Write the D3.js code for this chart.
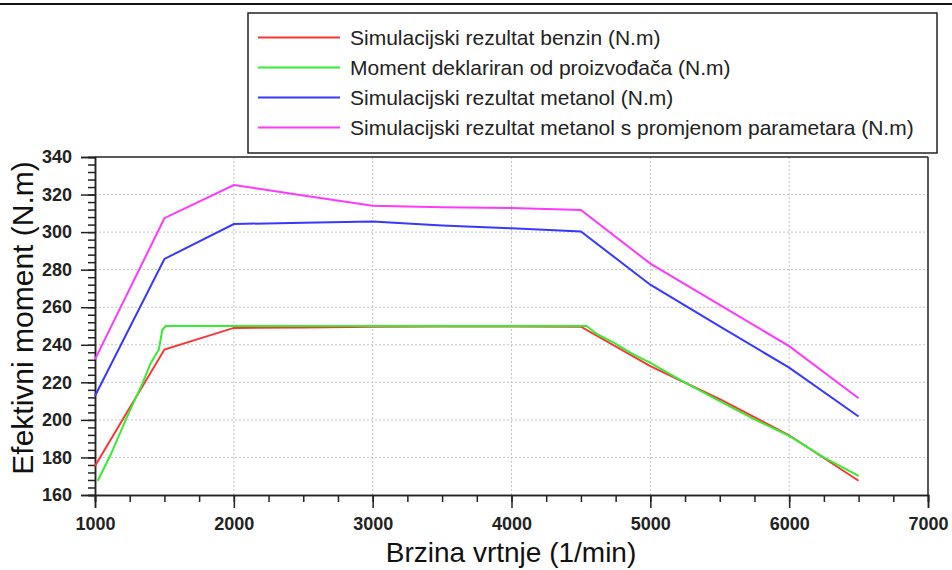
<!DOCTYPE html>
<html>
<head>
<meta charset="utf-8">
<script src="https://cdn.jsdelivr.net/npm/d3@7"></script>
<style>
	body { margin: 0; background: #fff; }
	svg text { font-family: 'Liberation Sans', Arial, sans-serif; }
</style>
</head>
<body>
<svg id="chart" width="952" height="570"></svg>
<script>
'use strict'

// series: [rpm, N.m]
var benzin = [[1000,175.5],[1500,237.5],[2000,249],[2500,249.2],[3000,249.6],[3500,249.7],[4000,249.8],[4500,249.6],[5000,228.6],[5500,211],[6000,191.8],[6500,167.6]];
var deklarirano = [[1020,167.6],[1110,181],[1245,204],[1340,219],[1400,230],[1460,237.5],[1485,248],[1510,250],[2000,250],[3000,250],[4000,250],[4540,250],[4620,245.5],[4740,241],[4855,235.8],[5000,230.4],[5250,219.8],[5500,210],[5750,200.3],[6000,191.5],[6250,180],[6500,170.2]];
var metanol = [[1000,212.7],[1500,285.7],[2000,304.3],[2500,305],[3000,305.6],[3500,303.5],[4000,302],[4500,300.3],[5000,272],[5500,249.8],[6000,227.8],[6500,201.8]];
var metanolParam = [[1000,232.2],[1500,307.4],[2000,325.1],[2500,319.5],[3000,314],[3500,313.3],[4000,312.8],[4500,311.8],[5000,283.2],[5500,261.2],[6000,239.3],[6500,211.5]];

var seriesNames = [
	'Simulacijski rezultat benzin (N.m)',
	'Moment deklariran od proizvođača (N.m)',
	'Simulacijski rezultat metanol (N.m)',
	'Simulacijski rezultat metanol s promjenom parametara (N.m)'
];
var seriesColors = ['#ff3333', '#33ee33', '#3838ff', '#ff38ff'];
var seriesData = [benzin, deklarirano, metanol, metanolParam];

var xTicks = [1000, 2000, 3000, 4000, 5000, 6000, 7000];
var yTicks = [160, 180, 200, 220, 240, 260, 280, 300, 320, 340];

var svg = d3.select('#chart');

var plot = { left: 95, right: 928, top: 157, bottom: 495 };

var xScale = d3.scaleLinear().domain([1000, 7000]).range([plot.left, plot.right]);
var yScale = d3.scaleLinear().domain([160, 340]).range([plot.bottom, plot.top]);

// top border of the picture
svg.append('line')
	.attr('x1', 0).attr('x2', 952)
	.attr('y1', 4).attr('y2', 4)
	.attr('stroke', '#111').attr('stroke-width', 2);

// grid
var grid = svg.append('g').attr('class', 'grid');
grid.selectAll('line.h')
	.data(yTicks.slice(1, -1))
	.enter()
	.append('line')
	.attr('x1', plot.left).attr('x2', plot.right)
	.attr('y1', function(d){ return yScale(d); })
	.attr('y2', function(d){ return yScale(d); })
	.attr('stroke', '#c4c4c4').attr('stroke-dasharray', '2,2');
grid.selectAll('line.v')
	.data(xTicks.slice(1, -1))
	.enter()
	.append('line')
	.attr('y1', plot.top).attr('y2', plot.bottom)
	.attr('x1', function(d){ return xScale(d); })
	.attr('x2', function(d){ return xScale(d); })
	.attr('stroke', '#c4c4c4').attr('stroke-dasharray', '2,2');

// frame top / right
svg.append('line')
	.attr('x1', plot.left).attr('x2', plot.right)
	.attr('y1', plot.top).attr('y2', plot.top)
	.attr('stroke', '#222').attr('stroke-width', 1.5);
svg.append('line')
	.attr('x1', plot.right).attr('x2', plot.right)
	.attr('y1', plot.top).attr('y2', plot.bottom)
	.attr('stroke', '#222').attr('stroke-width', 1.5);

// axes
svg.append('g')
	.attr('transform', `translate(0, ${plot.bottom})`)
	.call(d3.axisBottom(xScale).tickValues(d3.range(1000, 7001, 250)).tickFormat('').tickSize(7));
svg.append('g')
	.attr('transform', `translate(0, ${plot.bottom})`)
	.call(d3.axisBottom(xScale).tickValues(xTicks).tickFormat(d3.format('d')).tickSize(13).tickPadding(9));

svg.append('g')
	.attr('transform', `translate(${plot.left}, 0)`)
	.call(d3.axisLeft(yScale).tickValues(d3.range(160, 341, 4)).tickFormat('').tickSize(7));
svg.append('g')
	.attr('transform', `translate(${plot.left}, 0)`)
	.call(d3.axisLeft(yScale).tickValues(yTicks).tickFormat(d3.format('d')).tickSize(14).tickPadding(9));

svg.selectAll('.domain').attr('stroke', '#222').attr('stroke-width', 1.5);
svg.selectAll('.tick line').attr('stroke', '#222').attr('stroke-width', 1.5);
svg.selectAll('.tick text')
	.attr('font-size', 18)
	.attr('font-weight', 'bold')
	.attr('fill', '#222');

// lines
var line = d3.line()
	.x(function(d){ return xScale(d[0]); })
	.y(function(d){ return yScale(d[1]); });

svg.append('g')
	.selectAll('path')
	.data(seriesData)
	.enter()
	.append('path')
	.attr('d', line)
	.attr('fill', 'none')
	.attr('stroke', function(d, i){ return seriesColors[i]; })
	.attr('stroke-width', 2);

// axis titles
svg.append('text')
	.attr('x', 511)
	.attr('y', 562)
	.attr('text-anchor', 'middle')
	.attr('font-size', 28)
	.attr('fill', '#111')
	.text('Brzina vrtnje (1/min)');

svg.append('text')
	.attr('transform', 'translate(33, 318) rotate(-90)')
	.attr('text-anchor', 'middle')
	.attr('font-size', 30)
	.attr('fill', '#111')
	.text('Efektivni moment (N.m)');

// legend
var legend = svg.append('g').attr('class', 'legend');
legend.append('rect')
	.attr('x', 248).attr('y', 13)
	.attr('width', 689).attr('height', 140)
	.attr('fill', '#fff')
	.attr('stroke', '#222').attr('stroke-width', 1.5);

var item = legend.selectAll('g.item')
	.data(seriesNames)
	.enter()
	.append('g')
	.attr('transform', function(d, i){ return `translate(0, ${37.5 + i * 30})`; });
item.append('line')
	.attr('x1', 258).attr('x2', 340)
	.attr('stroke', function(d, i){ return seriesColors[i]; })
	.attr('stroke-width', 2);
item.append('text')
	.attr('x', 350)
	.attr('dy', '0.35em')
	.attr('font-size', 21)
	.attr('fill', '#222')
	.text(function(d){ return d; });
</script>
</body>
</html>
